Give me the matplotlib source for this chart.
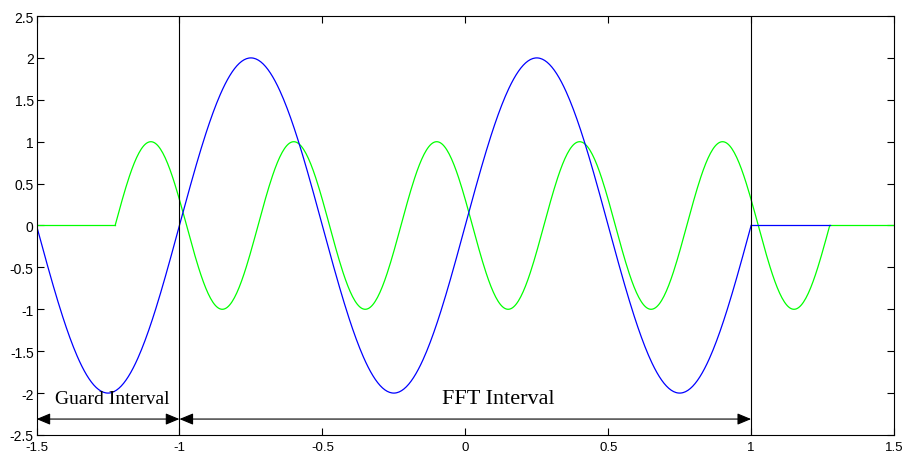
import numpy as np
import matplotlib
matplotlib.use("Agg")
import matplotlib.pyplot as plt

# signal parameters
blue_amp = 2.0
blue_period = 1.0
blue_span = [-1.5, 1.0]      # sinusoid part
blue_tail = [1.0, 1.275]     # flat zero after the FFT window

green_amp = 1.0
green_period = 0.5
green_span = [-1.225, 1.275]  # sinusoid part (shifted copy)
green_flat = [[-1.5, -1.225], [1.275, 1.5]]

boundaries = [-1.0, 1.0]
guard_arrow = [-1.5, -1.0]
fft_arrow = [-1.0, 1.0]
arrow_y = -2.31
labels = ["Guard Interval", "FFT Interval"]
label_x = [-1.234, 0.114]
label_y = [-2.06, -2.06]

xticks = [-1.5, -1, -0.5, 0, 0.5, 1, 1.5]
xticklabels = ["-1.5", "-1", "-0.5", "0", "0.5", "1", "1.5"]
yticks = [-2.5, -2, -1.5, -1, -0.5, 0, 0.5, 1, 1.5, 2, 2.5]
yticklabels = ["-2.5", "-2", "-1.5", "-1", "-0.5", "0", "0.5", "1", "1.5", "2", "2.5"]

fig = plt.figure(figsize=(9.06, 4.56), dpi=100)
ax = fig.add_axes([0.0403, 0.0439, 0.9465, 0.9188])

xb = np.linspace(blue_span[0], blue_span[1], 600)
yb = blue_amp * np.sin(2 * np.pi * xb / blue_period)
xg = np.linspace(green_span[0], green_span[1], 600)
yg = green_amp * np.sin(2 * np.pi * (xg - green_span[0]) / green_period)

for seg in green_flat:
    ax.plot(seg, [0, 0], color="#00ff00", lw=0.9)
ax.plot(xg, yg, color="#00ff00", lw=0.9)
ax.plot(xb, yb, color="#0000ff", lw=0.9)
ax.plot(blue_tail, [0, 0], color="#0000ff", lw=0.9)

for b in boundaries:
    ax.axvline(b, color="black", lw=0.8)

for a in (guard_arrow, fft_arrow):
    ax.annotate("", xy=(a[1], arrow_y), xytext=(a[0], arrow_y),
                arrowprops=dict(arrowstyle="<|-|>,head_length=0.6,head_width=0.25",
                                color="black", lw=0.8,
                                mutation_scale=14, shrinkA=0, shrinkB=0))

ax.text(label_x[0], label_y[0], labels[0], ha="center", va="center",
        family="Liberation Serif", fontsize=14)
ax.text(label_x[1], label_y[1], labels[1], ha="center", va="center",
        family="Liberation Serif", fontsize=16)

ax.set_xlim(-1.5, 1.5)
ax.set_ylim(-2.5, 2.5)
ax.set_xticks(xticks)
ax.set_xticklabels(xticklabels)
ax.set_yticks(yticks)
ax.set_yticklabels(yticklabels)
ax.tick_params(direction="in", top=True, right=True, length=5, width=0.8,
               labelsize=10)
ax.tick_params(axis="x", pad=4, labelsize=9.5)
ax.tick_params(axis="y", pad=2)
for lab in ax.get_xticklabels() + ax.get_yticklabels():
    lab.set_family("Liberation Sans")
for s in ax.spines.values():
    s.set_linewidth(0.8)

fig.savefig("out.png", dpi=100)
